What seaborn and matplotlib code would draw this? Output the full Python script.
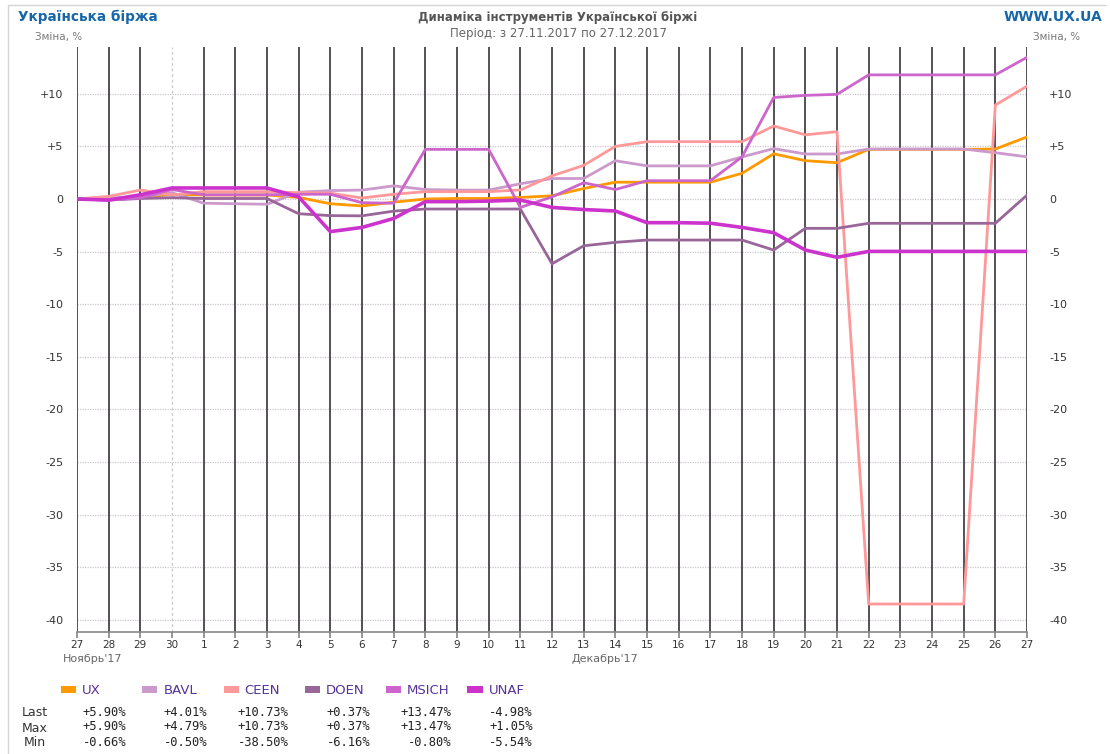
import numpy as np
import pandas as pd
import matplotlib
matplotlib.use("Agg")
import matplotlib.pyplot as plt
from matplotlib.patches import Rectangle
import seaborn as sns

# ---------------- data ----------------
start_date = "2017-11-27"
end_date = "2017-12-27"
tickers = ["UX", "BAVL", "CEEN", "DOEN", "MSICH", "UNAF"]
colors = ["#FF9900", "#CC99CC", "#FF9999", "#996699", "#CC66CC", "#CC33CC"]

ux = [0.00, 0.00, 0.15, 0.45, 0.38, 0.38, 0.38, 0.15, -0.45, -0.66, -0.30, 0.00, 0.05, 0.05, 0.15, 0.30,
      1.00, 1.60, 1.60, 1.60, 1.60, 2.44, 4.30, 3.64, 3.45, 4.72, 4.72, 4.72, 4.72, 4.75, 5.90]
bavl = [0.00, 0.10, 0.20, 0.60, -0.40, -0.45, -0.50, 0.65, 0.80, 0.85, 1.25, 0.90, 0.85, 0.85, 1.45, 1.95,
        1.95, 3.64, 3.15, 3.15, 3.15, 4.00, 4.79, 4.28, 4.28, 4.75, 4.75, 4.75, 4.75, 4.40, 4.01]
ceen = [0.00, 0.25, 0.85, 0.38, 0.70, 0.70, 0.70, 0.60, 0.55, 0.10, 0.45, 0.70, 0.70, 0.70, 0.86, 2.20,
        3.20, 5.00, 5.45, 5.45, 5.45, 5.45, 6.94, 6.10, 6.40, -38.50, -38.50, -38.50, -38.50, 8.93, 10.73]
doen = [0.00, -0.10, 0.05, 0.13, 0.05, 0.05, 0.05, -1.40, -1.58, -1.60, -1.15, -0.95, -0.95, -0.95, -0.95, -6.16,
        -4.45, -4.12, -3.90, -3.90, -3.90, -3.90, -4.85, -2.79, -2.79, -2.31, -2.31, -2.31, -2.31, -2.31, 0.37]
msich = [0.00, -0.10, 0.10, 0.90, 0.40, 0.40, 0.40, 0.45, 0.45, -0.35, -0.40, 4.72, 4.72, 4.72, -0.80, 0.20,
         1.55, 0.90, 1.74, 1.74, 1.74, 4.00, 9.65, 9.85, 9.95, 11.80, 11.80, 11.80, 11.80, 11.80, 13.47]
unaf = [0.00, -0.10, 0.40, 1.05, 1.05, 1.05, 1.05, 0.20, -3.10, -2.70, -1.85, -0.25, -0.25, -0.20, -0.10, -0.80,
        -1.00, -1.14, -2.25, -2.25, -2.30, -2.70, -3.20, -4.85, -5.54, -4.98, -4.98, -4.98, -4.98, -4.98, -4.98]

last_vals = [5.90, 4.01, 10.73, 0.37, 13.47, -4.98]
max_vals = [5.90, 4.79, 10.73, 0.37, 13.47, 1.05]
min_vals = [-0.66, -0.50, -38.50, -6.16, -0.80, -5.54]

y_ticks = [10, 5, 0, -5, -10, -15, -20, -25, -30, -35, -40]
month_labels = ["Ноябрь'17", "Декабрь'17"]

# ---------------- build frame ----------------
dates = pd.date_range(start_date, end_date, freq="D")
series = [ux, bavl, ceen, doen, msich, unaf]
df = pd.concat([pd.DataFrame({"date": dates, "value": s, "ticker": t}) for t, s in zip(tickers, series)],
               ignore_index=True)
palette = dict(zip(tickers, colors))

# ---------------- style ----------------
sns.set_theme(style="white")
plt.rcParams["font.family"] = ["DejaVu Sans"]

W, H = 1110, 754
fig = plt.figure(figsize=(W / 100, H / 100), dpi=100)
fig.patch.set_facecolor("white")


def fx(x):
    return x / W


def fy(y):
    return 1 - y / H


ax = fig.add_axes([fx(77), fy(632), fx(1027) - fx(77), fy(47) - fy(632)])
ax.set_facecolor("white")

# vertical day lines
for i, d in enumerate(dates):
    if i == 3:
        ax.axvline(d, color="#cccccc", lw=1.0, ls=(0, (2, 2)), zorder=1)
    else:
        ax.axvline(d, color="#555055", lw=1.4, zorder=1)
# horizontal grid
for v in y_ticks:
    ax.axhline(v, color="#cfc8cf", lw=0.9, ls=(0, (1, 1)), zorder=0.5)

for t in tickers:
    sub = df[df["ticker"] == t]
    sns.lineplot(data=sub, x="date", y="value", ax=ax, color=palette[t],
                 lw=2.6 if t == "UNAF" else 2.0, legend=False, zorder=3)

ax.set_xlim(dates[0], dates[-1])
ax.set_ylim(-41.16, 14.45)
ax.set_xlabel("")
ax.set_ylabel("")

ax.set_xticks(dates)
ax.set_xticklabels([str(d.day) for d in dates], fontsize=7.5, color="#333333")
ax.tick_params(axis="x", length=4, color="#888888", pad=2, bottom=True)

ax.set_yticks(y_ticks)
ylabels = [("+%d" % v if v > 0 else "%d" % v) for v in y_ticks]
ax.set_yticklabels(ylabels, fontsize=8, color="#333333")
ax.tick_params(axis="y", length=0, pad=10)

ax2 = ax.twinx()
ax2.set_ylim(ax.get_ylim())
ax2.set_yticks(y_ticks)
ax2.set_yticklabels(ylabels, fontsize=8, color="#333333")
ax2.tick_params(axis="y", length=0, pad=16)
for a in (ax, ax2):
    for s in ("top", "left", "right"):
        a.spines[s].set_visible(False)
    a.spines["bottom"].set_color("#888888")
    a.spines["bottom"].set_linewidth(1.2)
ax2.spines["bottom"].set_visible(False)

# month labels
fig.text(fx(63), fy(659), month_labels[0], fontsize=8, color="#666666", va="center", ha="left")
fig.text(fx(572), fy(659), month_labels[1], fontsize=8, color="#666666", va="center", ha="left")

# header
blue = "#1766a8"
fig.text(fx(18), fy(17), "Українська біржа", fontsize=9.8, fontweight="bold", color=blue, va="center", ha="left")
fig.text(fx(35), fy(37), "Зміна, %", fontsize=7.5, color="#777777", va="center", ha="left")
fig.text(fx(558), fy(17), "Динаміка інструментів Української біржі", fontsize=8.5, fontweight="bold",
         color="#555555", va="center", ha="center")
fig.text(fx(558), fy(34), "Період: з 27.11.2017 по 27.12.2017", fontsize=8.5, color="#666666",
         va="center", ha="center")
fig.text(fx(1102), fy(17), "WWW.UX.UA", fontsize=10, fontweight="bold", color=blue, va="center", ha="right")
fig.text(fx(1080), fy(37), "Зміна, %", fontsize=7.5, color="#777777", va="center", ha="right")

# legend + table
col_step = 81.3
for k, (t, c) in enumerate(zip(tickers, colors)):
    x0 = 61 + col_step * k
    fig.patches.append(Rectangle((fx(x0), fy(693)), fx(15), 7 / H, transform=fig.transFigure,
                                 facecolor=c, edgecolor="none"))
    fig.text(fx(x0 + 21), fy(690), t, fontsize=9.5, color="#553399", va="center", ha="left")
    xr = 126 + col_step * k
    fig.text(fx(xr), fy(712), f"{last_vals[k]:+.2f}%", fontsize=8.7, family="DejaVu Sans Mono",
             color="#222222", va="center", ha="right")
    fig.text(fx(xr), fy(727), f"{max_vals[k]:+.2f}%", fontsize=8.7, family="DejaVu Sans Mono",
             color="#222222", va="center", ha="right")
    fig.text(fx(xr), fy(742), f"{min_vals[k]:+.2f}%", fontsize=8.7, family="DejaVu Sans Mono",
             color="#222222", va="center", ha="right")

for lab, yy in zip(["Last", "Max", "Min"], [713, 729, 743]):
    fig.text(fx(35), fy(yy), lab, fontsize=9, color="#333333", va="center", ha="center")

# outer frame
fig.add_artist(plt.Line2D([fx(8), fx(8)], [fy(5), 0], transform=fig.transFigure, color="#d5d5d5", lw=1))
fig.add_artist(plt.Line2D([fx(8), fx(1106)], [fy(5), fy(5)], transform=fig.transFigure, color="#d5d5d5", lw=1))

fig.savefig("out.png", dpi=100)
